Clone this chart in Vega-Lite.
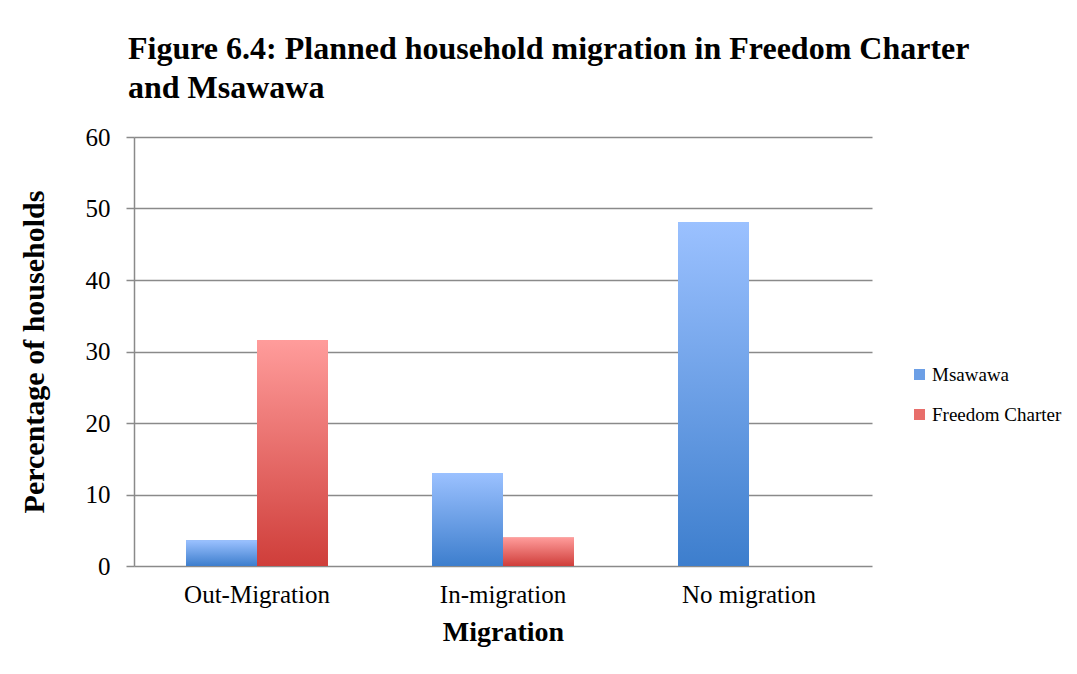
{
  "$schema": "https://vega.github.io/schema/vega-lite/v6.json",
  "width": 738,
  "height": 429,
  "autosize": {"type": "none"},
  "padding": {"left": 134, "top": 137, "right": 205, "bottom": 108},
  "background": "white",
  "title": {
    "text": ["Figure 6.4: Planned household migration in Freedom Charter", "and Msawawa"],
    "anchor": "start",
    "frame": "group",
    "dx": -6,
    "offset": 20,
    "font": "Liberation Serif",
    "fontSize": 32,
    "fontWeight": "bold",
    "lineHeight": 39,
    "color": "black"
  },
  "data": {
    "values": [
      {"migration": "Out-Migration", "site": "Msawawa", "pct": 3.6},
      {"migration": "Out-Migration", "site": "Freedom Charter", "pct": 31.6},
      {"migration": "In-migration", "site": "Msawawa", "pct": 13.0},
      {"migration": "In-migration", "site": "Freedom Charter", "pct": 4.0},
      {"migration": "No migration", "site": "Msawawa", "pct": 48.1},
      {"migration": "No migration", "site": "Freedom Charter", "pct": 0}
    ]
  },
  "encoding": {
    "x": {
      "field": "migration",
      "type": "nominal",
      "sort": ["Out-Migration", "In-migration", "No migration"],
      "scale": {"paddingInner": 0.423, "paddingOuter": 0.2115},
      "title": "Migration",
      "axis": {
        "labelAngle": 0,
        "ticks": false,
        "domain": false,
        "labelPadding": 16,
        "labelFont": "Liberation Serif",
        "labelFontSize": 25,
        "labelColor": "black",
        "titleFont": "Liberation Serif",
        "titleFontSize": 28,
        "titleFontWeight": "bold",
        "titleColor": "black",
        "titlePadding": 11
      }
    },
    "xOffset": {
      "field": "site",
      "type": "nominal",
      "scale": {"domain": ["Msawawa", "Freedom Charter"], "paddingInner": 0, "paddingOuter": 0}
    },
    "y": {
      "field": "pct",
      "type": "quantitative",
      "scale": {"domain": [0, 60], "nice": false},
      "title": "Percentage of households",
      "axis": {
        "values": [0, 10, 20, 30, 40, 50, 60],
        "grid": true,
        "gridColor": "#8a8a8a",
        "gridWidth": 1.5,
        "domainColor": "#8a8a8a",
        "domainWidth": 1.5,
        "tickColor": "#8a8a8a",
        "tickWidth": 1.5,
        "tickSize": 8,
        "labelPadding": 16,
        "labelFont": "Liberation Serif",
        "labelFontSize": 25,
        "labelColor": "black",
        "titleFont": "Liberation Serif",
        "titleFontSize": 30,
        "titleFontWeight": "bold",
        "titleColor": "black",
        "titlePadding": 36
      }
    }
  },
  "layer": [
    {
      "mark": {"type": "bar"},
      "encoding": {
        "color": {
          "field": "site",
          "type": "nominal",
          "scale": {"domain": ["Msawawa", "Freedom Charter"], "range": ["#6c9fe6", "#e86e6b"]},
          "legend": {
            "title": null,
            "orient": "none",
            "legendX": 776,
            "legendY": 228,
            "padding": 0,
            "symbolType": "square",
            "symbolSize": 121,
            "symbolStrokeWidth": 0,
            "rowPadding": 20,
            "labelOffset": 3,
            "labelFont": "Liberation Serif",
            "labelFontSize": 19,
            "labelColor": "black"
          }
        }
      }
    },
    {
      "transform": [{"filter": "datum.site === 'Msawawa'"}],
      "mark": {
        "type": "bar",
        "color": {
          "gradient": "linear",
          "x1": 0, "y1": 0, "x2": 0, "y2": 1,
          "stops": [
            {"offset": 0, "color": "#9bc1ff"},
            {"offset": 1, "color": "#3d7ecd"}
          ]
        }
      }
    },
    {
      "transform": [{"filter": "datum.site === 'Freedom Charter'"}],
      "mark": {
        "type": "bar",
        "color": {
          "gradient": "linear",
          "x1": 0, "y1": 0, "x2": 0, "y2": 1,
          "stops": [
            {"offset": 0, "color": "#ff9c9b"},
            {"offset": 1, "color": "#cf3e3a"}
          ]
        }
      }
    }
  ],
  "config": {
    "view": {"stroke": null}
  }
}
